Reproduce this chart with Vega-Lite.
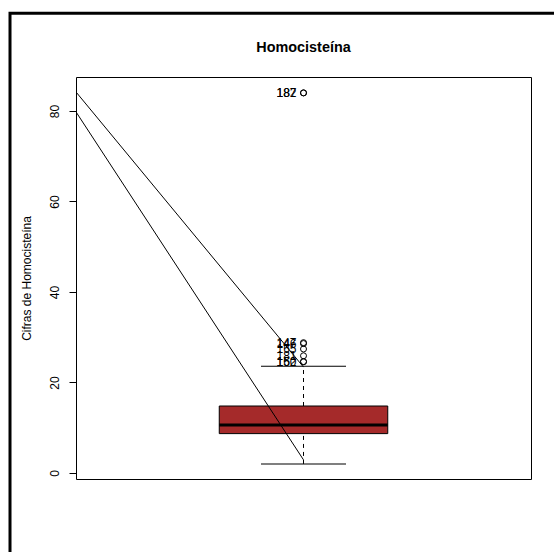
{
  "$schema": "https://vega.github.io/schema/vega-lite/v6.json",
  "width": 455,
  "height": 402,
  "autosize": {"type": "none"},
  "padding": {"left": 76, "top": 77, "right": 23, "bottom": 73},
  "background": "white",
  "config": {
    "view": {"stroke": "black", "strokeWidth": 1},
    "font": "Liberation Sans",
    "axis": {"grid": false}
  },
  "title": {
    "text": "Homocisteína",
    "font": "Liberation Sans",
    "fontSize": 14.4,
    "fontWeight": "bold",
    "color": "black",
    "anchor": "middle",
    "frame": "group",
    "baseline": "alphabetic",
    "offset": -54.3
  },
  "datasets": {
    "resumen": [
      {"grupo": 1, "q1": 8.7, "mediana": 10.6, "q3": 14.8, "minimo": 2.0, "maximo": 23.6}
    ],
    "atipicos": [
      {"grupo": 1, "valor": 84.0, "caso": "182"},
      {"grupo": 1, "valor": 84.0, "caso": "187"},
      {"grupo": 1, "valor": 28.8, "caso": "147"},
      {"grupo": 1, "valor": 28.6, "caso": "146"},
      {"grupo": 1, "valor": 27.4, "caso": "165"},
      {"grupo": 1, "valor": 25.9, "caso": "181"},
      {"grupo": 1, "valor": 24.6, "caso": "152"},
      {"grupo": 1, "valor": 24.6, "caso": "160"}
    ],
    "lineas": [
      {"linea": "a", "x": -0.08, "y": 84.2},
      {"linea": "a", "x": 1, "y": 23.4},
      {"linea": "b", "x": -0.08, "y": 79.8},
      {"linea": "b", "x": 1, "y": 2.9}
    ],
    "marco": [
      {"x0": -0.3933, "x1": 2.4, "y0": -30, "y1": 101.6}
    ]
  },
  "layer": [
    {
      "data": {"name": "resumen"},
      "mark": {"type": "rule", "color": "black", "strokeWidth": 1, "strokeDash": [4, 4]},
      "encoding": {
        "x": {"field": "grupo", "type": "quantitative", "scale": {"domain": [-0.08, 2.08], "nice": false, "zero": false, "padding": 0}, "axis": null},
        "y": {
          "field": "q3",
          "type": "quantitative",
          "scale": {"domain": [-1.33, 87.51], "nice": false, "zero": false, "padding": 0},
          "axis": {
            "title": "Cifras de Homocisteína",
            "values": [0, 20, 40, 60, 80],
            "format": "d",
            "domain": false,
            "grid": false,
            "ticks": true,
            "tickSize": 7,
            "tickColor": "black",
            "tickWidth": 1,
            "labelFont": "Liberation Sans",
            "labelFontSize": 12,
            "labelColor": "black",
            "labelAngle": 270,
            "labelAlign": "center",
            "labelBaseline": "alphabetic",
            "labelPadding": 11,
            "labelFlush": false,
            "labelOverlap": false,
            "titleFont": "Liberation Sans",
            "titleFontSize": 12,
            "titleFontWeight": "normal",
            "titleColor": "black",
            "titleAngle": 270,
            "titleAlign": "center",
            "titleBaseline": "alphabetic",
            "titleX": -46,
            "titleY": 201
          }
        },
        "y2": {"field": "maximo"}
      }
    },
    {
      "data": {"name": "resumen"},
      "mark": {"type": "rule", "color": "black", "strokeWidth": 1, "strokeDash": [4, 4]},
      "encoding": {
        "x": {"field": "grupo", "type": "quantitative", "axis": null},
        "y": {"field": "minimo", "type": "quantitative"},
        "y2": {"field": "q1"}
      }
    },
    {
      "data": {"name": "resumen"},
      "mark": {"type": "bar", "orient": "vertical", "width": 168.5, "fill": "#A52A2A", "stroke": "black", "strokeWidth": 1, "opacity": 1},
      "encoding": {
        "x": {"field": "grupo", "type": "quantitative", "axis": null},
        "y": {"field": "q1", "type": "quantitative"},
        "y2": {"field": "q3"}
      }
    },
    {
      "data": {"name": "resumen"},
      "mark": {"type": "tick", "orient": "horizontal", "size": 168.5, "thickness": 3, "color": "black", "opacity": 1},
      "encoding": {
        "x": {"field": "grupo", "type": "quantitative", "axis": null},
        "y": {"field": "mediana", "type": "quantitative"}
      }
    },
    {
      "data": {"name": "resumen"},
      "mark": {"type": "tick", "orient": "horizontal", "size": 85, "thickness": 1, "color": "black", "opacity": 1},
      "encoding": {
        "x": {"field": "grupo", "type": "quantitative", "axis": null},
        "y": {"field": "maximo", "type": "quantitative"}
      }
    },
    {
      "data": {"name": "resumen"},
      "mark": {"type": "tick", "orient": "horizontal", "size": 85, "thickness": 1, "color": "black", "opacity": 1},
      "encoding": {
        "x": {"field": "grupo", "type": "quantitative", "axis": null},
        "y": {"field": "minimo", "type": "quantitative"}
      }
    },
    {
      "data": {"name": "atipicos"},
      "mark": {"type": "point", "shape": "circle", "filled": false, "size": 36, "stroke": "black", "strokeWidth": 1, "opacity": 1},
      "encoding": {
        "x": {"field": "grupo", "type": "quantitative", "axis": null},
        "y": {"field": "valor", "type": "quantitative"}
      }
    },
    {
      "data": {"name": "atipicos"},
      "mark": {"type": "text", "align": "right", "baseline": "middle", "dx": -7, "fontSize": 12, "font": "Liberation Sans", "color": "black"},
      "encoding": {
        "x": {"field": "grupo", "type": "quantitative", "axis": null},
        "y": {"field": "valor", "type": "quantitative"},
        "text": {"field": "caso"}
      }
    },
    {
      "data": {"name": "lineas"},
      "mark": {"type": "line", "color": "black", "strokeWidth": 1, "clip": true},
      "encoding": {
        "x": {"field": "x", "type": "quantitative", "axis": null},
        "y": {"field": "y", "type": "quantitative"},
        "detail": {"field": "linea"}
      }
    },
    {
      "data": {"name": "marco"},
      "mark": {"type": "rect", "fill": "transparent", "stroke": "black", "strokeWidth": 3, "clip": false},
      "encoding": {
        "x": {"field": "x0", "type": "quantitative", "axis": null},
        "x2": {"field": "x1"},
        "y": {"field": "y0", "type": "quantitative"},
        "y2": {"field": "y1"}
      }
    }
  ]
}
